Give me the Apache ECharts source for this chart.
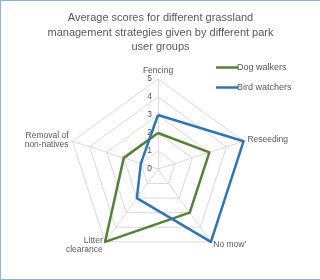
<!DOCTYPE html>
<html><head><meta charset="utf-8">
<script src="https://cdn.jsdelivr.net/npm/echarts@6/dist/echarts.min.js"></script>
<style>
html,body{margin:0;padding:0;background:#fff;}
#c{width:319px;height:278px;border-top:1px solid #8db3d9;border-left:1px solid #8db3d9;border-bottom:1px solid #8db3d9;}
</style></head><body>
<div id="c"></div>
<script>
// Indicators listed counter-clockwise from top (ECharts radar order)
var indicators = ["Fencing", "Removal of\nnon-natives", "Litter\nclearance", "No mow'", "Reseeding"];
var dogWalkers = [2, 2, 5, 3, 3];
var birdWatchers = [3, 1, 2, 5, 5];
var seriesNames = ["Dog walkers", "Bird watchers"];
var maxValue = 5;

var chart = echarts.init(document.getElementById('c'), null, {renderer: 'canvas'});
var font = 'Liberation Sans';
var center = [157, 168], radius = 90;
chart.setOption({
  animation: false,
  title: {
    text: 'Average scores for different grassland\nmanagement strategies given by different park\nuser groups',
    left: 'center', top: 5,
    textStyle: {fontFamily: font, fontSize: 11, fontWeight: 'normal', color: '#595959', lineHeight: 14.5}
  },
  legend: {
    orient: 'vertical', left: 210, top: 57,
    icon: 'rect', itemWidth: 22, itemHeight: 2.5, itemGap: 11,
    textStyle: {fontFamily: font, fontSize: 9, color: '#595959', padding: [0,0,0,-6]},
    data: seriesNames
  },
  polar: {center: center, radius: radius},
  angleAxis: {show: false, startAngle: 90, min: 0, max: 360},
  radiusAxis: {
    min: 0, max: maxValue, interval: 1,
    axisLine: {show: false}, axisTick: {show: false}, splitLine: {show: false},
    axisLabel: {show: true, fontFamily: font, fontSize: 8.5, color: '#595959', margin: 6, showMinLabel: true}
  },
  radar: {
    center: center, radius: radius, startAngle: 90,
    splitNumber: 5,
    shape: 'polygon',
    indicator: indicators.map(function(n){ return {name: n, min: 0, max: maxValue}; }),
    axisName: {fontFamily: font, fontSize: 8.5, color: '#595959'},
    nameGap: 4,
    splitLine: {lineStyle: {color: '#d9d9d9', width: 1}},
    splitArea: {show: false},
    axisLine: {lineStyle: {color: '#d9d9d9', width: 1}},
    axisTick: {show: false},
    axisLabel: {show: false}
  },
  series: [{
    type: 'radar', symbol: 'none',
    data: [
      {name: seriesNames[0], value: dogWalkers, lineStyle: {color: '#548235', width: 2.5}, itemStyle: {color: '#548235'}},
      {name: seriesNames[1], value: birdWatchers, lineStyle: {color: '#2e75b6', width: 2.5}, itemStyle: {color: '#2e75b6'}}
    ]
  }]
});
</script>
</body></html>
